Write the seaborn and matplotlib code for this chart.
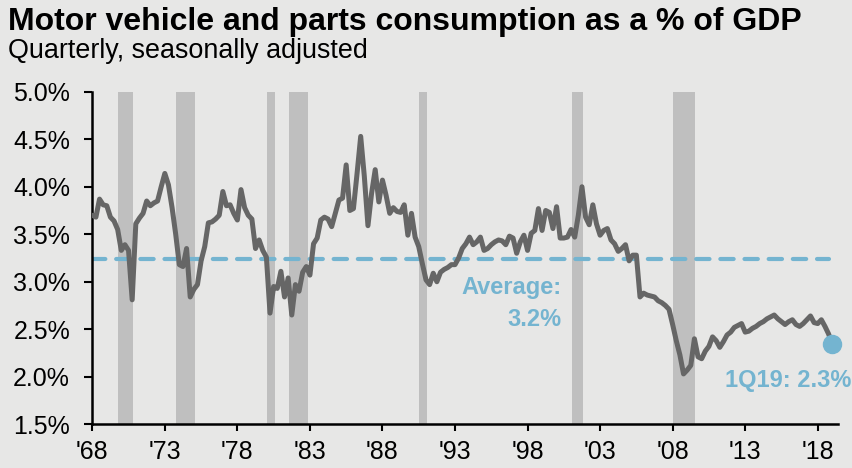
import numpy as np
import pandas as pd
import matplotlib.pyplot as plt
import seaborn as sns

# Quarterly values, 1Q68 .. 1Q19 (percent of GDP)
share = [
    3.70, 3.68, 3.87, 3.81,  # 1968
    3.80, 3.68, 3.64, 3.55,  # 1969
    3.33, 3.39, 3.33, 2.81,  # 1970
    3.61, 3.67, 3.72, 3.85,  # 1971
    3.80, 3.83, 3.85, 4.00,  # 1972
    4.14, 4.02, 3.78, 3.50,  # 1973
    3.18, 3.16, 3.35, 2.84,  # 1974
    2.92, 2.97, 3.22, 3.37,  # 1975
    3.62, 3.63, 3.66, 3.70,  # 1976
    3.95, 3.80, 3.81, 3.72,  # 1977
    3.65, 3.97, 3.78, 3.70,  # 1978
    3.66, 3.35, 3.44, 3.33,  # 1979
    3.26, 2.67, 2.95, 2.93,  # 1980
    3.11, 2.84, 3.04, 2.65,  # 1981
    2.97, 2.90, 3.10, 3.16,  # 1982
    3.07, 3.40, 3.46, 3.65,  # 1983
    3.68, 3.66, 3.58, 3.72,  # 1984
    3.86, 3.88, 4.23, 3.75,  # 1985
    3.77, 4.14, 4.53, 4.11,  # 1986
    3.59, 3.93, 4.18, 3.84,  # 1987
    4.07, 3.91, 3.72, 3.78,  # 1988
    3.74, 3.73, 3.81, 3.49,  # 1989
    3.72, 3.47, 3.37, 3.19,  # 1990
    3.02, 2.97, 3.09, 3.00,  # 1991
    3.10, 3.13, 3.15, 3.18,  # 1992
    3.18, 3.25, 3.35, 3.40,  # 1993
    3.47, 3.39, 3.42, 3.47,  # 1994
    3.33, 3.35, 3.39, 3.42,  # 1995
    3.44, 3.43, 3.39, 3.48,  # 1996
    3.46, 3.30, 3.42, 3.49,  # 1997
    3.33, 3.51, 3.54, 3.77,  # 1998
    3.54, 3.75, 3.73, 3.56,  # 1999
    3.79, 3.46, 3.46, 3.47,  # 2000
    3.55, 3.47, 3.70, 4.00,  # 2001
    3.68, 3.60, 3.81, 3.61,  # 2002
    3.49, 3.54, 3.56, 3.44,  # 2003
    3.40, 3.32, 3.35, 3.39,  # 2004
    3.22, 3.28, 3.28, 2.84,  # 2005
    2.88, 2.86, 2.85, 2.84,  # 2006
    2.80, 2.78, 2.75, 2.71,  # 2007
    2.55, 2.38, 2.23, 2.03,  # 2008
    2.07, 2.12, 2.40, 2.21,  # 2009
    2.19, 2.27, 2.32, 2.42,  # 2010
    2.38, 2.31, 2.37, 2.44,  # 2011
    2.47, 2.52, 2.54, 2.56,  # 2012
    2.47, 2.48, 2.51, 2.53,  # 2013
    2.56, 2.58, 2.61, 2.63,  # 2014
    2.65, 2.61, 2.58, 2.55,  # 2015
    2.58, 2.60, 2.55, 2.53,  # 2016
    2.56, 2.60, 2.64, 2.57,  # 2017
    2.56, 2.60, 2.53, 2.45,  # 2018
    2.34,                    # 2019
]
average = 3.24

# Recessions (decimal years, start / end)
rec_start = [1969.77, 1973.78, 1980.04, 1981.55, 1990.51, 2001.06, 2008.04]
rec_end = [1970.78, 1975.06, 1980.59, 1982.84, 1991.04, 2001.80, 2009.52]

tick_years = [1968, 1973, 1978, 1983, 1988, 1993, 1998, 2003, 2008, 2013, 2018]
tick_labels = ["'68", "'73", "'78", "'83", "'88", "'93", "'98", "'03", "'08", "'13", "'18"]
y_ticks = [1.5, 2.0, 2.5, 3.0, 3.5, 4.0, 4.5, 5.0]

BG = "#e7e7e6"
GREY_LINE = "#666666"
BLUE = "#74b4d0"
REC = "#bfbfbf"

sns.set_theme(style="white", rc={"axes.facecolor": BG, "figure.facecolor": BG})
plt.rcParams["font.family"] = ["Liberation Sans", "DejaVu Sans"]

df = pd.DataFrame({"q": np.arange(len(share)), "share": share})


def yq(year):
    # decimal year -> quarter index (1Q68 = 0)
    return (year - 1968) * 4


fig = plt.figure(figsize=(8.52, 4.68), dpi=100)
ax = fig.add_axes([0.1083, 0.0934, 0.8749, 0.7106])

for s, e in zip(rec_start, rec_end):
    ax.axvspan(yq(s), yq(e), color=REC, lw=0, zorder=0)

ax.plot([0, len(share) - 2], [average, average], color=BLUE, lw=3,
        dashes=(3.2, 2.6), dash_capstyle="round", zorder=2)

sns.lineplot(data=df, x="q", y="share", ax=ax, color=GREY_LINE, lw=3.6, zorder=3)
ax.plot(df["q"].iloc[-1], df["share"].iloc[-1], "o", color=BLUE, ms=13, zorder=4, clip_on=False)

ax.text(129.5, 2.87, "Average:", color=BLUE, fontsize=17, fontweight="bold", ha="right", va="baseline")
ax.text(129.5, 2.53, "3.2%", color=BLUE, fontsize=17, fontweight="bold", ha="right", va="baseline")
ax.text(174.4, 1.89, "1Q19: 2.3%", color=BLUE, fontsize=17, fontweight="bold", ha="left",
        va="baseline", clip_on=False)

ax.set_xlim(0, 205.5)
ax.set_ylim(1.5, 5.0)
ax.set_xticks([yq(y) for y in tick_years])
ax.set_xticklabels(tick_labels)
ax.set_yticks(y_ticks)
ax.set_yticklabels([f"{v:.1f}%" for v in y_ticks])
ax.set_xlabel("")
ax.set_ylabel("")
ax.tick_params(axis="both", labelsize=18, colors="black", width=1.5, direction="out")
ax.tick_params(axis="y", length=6, pad=10)
ax.tick_params(axis="x", length=5, pad=6)
ax.tick_params(left=True, bottom=True)
sns.despine(ax=ax)
for sp in ["left", "bottom"]:
    ax.spines[sp].set_color("black")
    ax.spines[sp].set_linewidth(1.8)

fig.text(0.0094, 0.935, "Motor vehicle and parts consumption as a % of GDP",
         fontsize=23, fontweight="bold", color="black", ha="left", va="baseline")
fig.text(0.0094, 0.875, "Quarterly, seasonally adjusted", fontsize=19.4, color="black",
         ha="left", va="baseline")

fig.savefig("out.png", dpi=100, facecolor=BG)
